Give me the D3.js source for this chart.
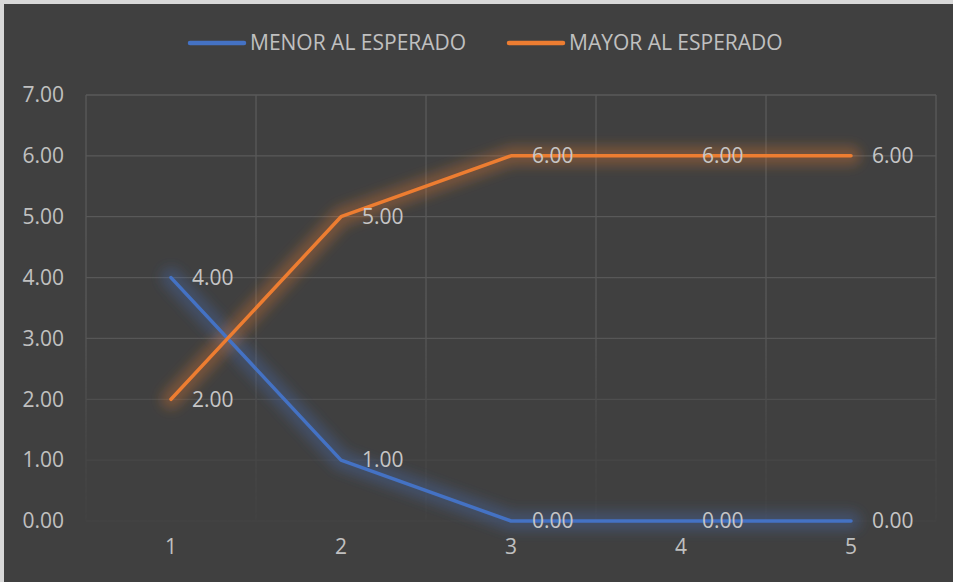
<!DOCTYPE html>
<html><head><meta charset="utf-8">
<script src="https://cdn.jsdelivr.net/npm/d3@7"></script>
<style>html,body{margin:0;padding:0;background:#404040;overflow:hidden}svg{display:block}</style>
</head><body>
<script>
const categories = ["1","2","3","4","5"];
const seriesNames = ["MENOR AL ESPERADO","MAYOR AL ESPERADO"];
const menor = [4,1,0,0,0];
const mayor = [2,5,6,6,6];
const yTicks = [0,1,2,3,4,5,6,7];
const colors = ["#4472C4","#ED7D31"];

const W=953,H=582;
const svg=d3.select("body").append("svg").attr("width",W).attr("height",H);
const font="'Open Sans', 'Noto Sans', sans-serif";
const txtColor="#c0c0c0";
const fs="21px";

svg.append("rect").attr("width",W).attr("height",H).attr("fill","#d9d9d9");
svg.append("rect").attr("x",4).attr("y",4).attr("width",W-4).attr("height",H-4).attr("fill","#404040");

const defs=svg.append("defs");
const grad=defs.append("linearGradient").attr("id","fade").attr("gradientUnits","userSpaceOnUse")
  .attr("y1",95).attr("y2",522).attr("x1",0).attr("x2",0);
grad.append("stop").attr("offset","0").attr("stop-color","#fff");
grad.append("stop").attr("offset","0.55").attr("stop-color","#eee");
grad.append("stop").attr("offset","0.8").attr("stop-color","#555");
grad.append("stop").attr("offset","1").attr("stop-color","#1a1a1a");
defs.append("mask").attr("id","gridmask").attr("maskUnits","userSpaceOnUse")
  .attr("x",0).attr("y",0).attr("width",W).attr("height",H)
  .append("rect").attr("x",0).attr("y",0).attr("width",W).attr("height",H).attr("fill","url(#fade)");
const blur=defs.append("filter").attr("id","glow").attr("x","-20%").attr("y","-20%").attr("width","140%").attr("height","140%");
blur.append("feGaussianBlur").attr("stdDeviation",6);

const x=d3.scaleBand().domain(categories).range([86,936]);
const y=d3.scaleLinear().domain([0,7]).range([521,95]);

// grid
const grid=svg.append("g").attr("mask","url(#gridmask)");
grid.selectAll("line.h").data(yTicks).join("line").attr("class","h")
  .attr("x1",86).attr("x2",936).attr("y1",d=>y(d)).attr("y2",d=>y(d))
  .attr("stroke","#5a5a5a").attr("stroke-width",1.3);
const vb=categories.map(c=>x(c)).concat([x(categories[categories.length-1])+x.bandwidth()]);
grid.selectAll("line.v").data(vb).join("line").attr("class","v")
  .attr("x1",d=>d).attr("x2",d=>d).attr("y1",y(7)).attr("y2",y(0))
  .attr("stroke","#5a5a5a").attr("stroke-width",1.3);

// y axis
const yAxis=d3.axisLeft(y).tickValues(yTicks).tickFormat(d3.format(".2f")).tickSize(0).tickPadding(0);
const ya=svg.append("g").attr("transform","translate(64,0)").call(yAxis);
ya.select(".domain").remove();
ya.selectAll("text").attr("fill",txtColor).style("font-family",font).style("font-size",fs);

// x axis
const xAxis=d3.axisBottom(x).tickSize(0).tickPadding(0);
const xa=svg.append("g").attr("transform","translate(0,539)").call(xAxis);
xa.select(".domain").remove();
xa.selectAll("text").attr("fill",txtColor).style("font-family",font).style("font-size",fs);

const cx=c=>x(c)+x.bandwidth()/2;
const series=[menor,mayor];
const line=d3.line().x((d,i)=>cx(categories[i])).y(d=>y(d));

series.forEach((s,k)=>{
  svg.append("path").attr("d",line(s)).attr("fill","none").attr("stroke",colors[k])
    .attr("stroke-width",20).attr("stroke-opacity",0.3).attr("stroke-linecap","round").attr("stroke-linejoin","round")
    .attr("filter","url(#glow)");
});
series.forEach((s,k)=>{
  svg.append("path").attr("d",line(s)).attr("fill","none").attr("stroke",colors[k])
    .attr("stroke-width",3.5).attr("stroke-linecap","round").attr("stroke-linejoin","round");
});
series.forEach((s,k)=>{
  svg.append("g").selectAll("text").data(s).join("text")
    .attr("x",(d,i)=>cx(categories[i])+21).attr("y",d=>y(d)).attr("dy","0.35em")
    .attr("fill","#c6c6c6").style("font-family",font).style("font-size",fs)
    .text(d=>d3.format(".2f")(d));
});

// legend
const legX=[190,509];
seriesNames.forEach((n,k)=>{
  svg.append("line").attr("x1",legX[k]).attr("x2",legX[k]+54).attr("y1",43).attr("y2",43)
    .attr("stroke",colors[k]).attr("stroke-width",4.5).attr("stroke-linecap","round");
  svg.append("text").attr("x",legX[k]+60).attr("y",43).attr("dy","0.35em")
    .attr("fill",txtColor).style("font-family",font).style("font-size",fs).text(n);
});
</script>
</body></html>
